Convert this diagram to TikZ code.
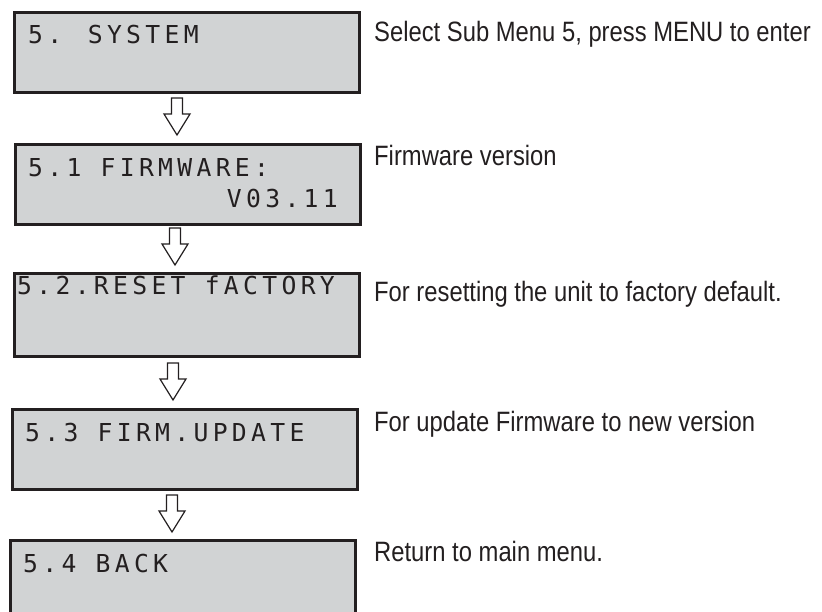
\documentclass[tikz,border=0pt]{standalone}
\usepackage{fontspec}
\setmainfont{Liberation Sans}[FakeStretch=0.85]
\newfontfamily\lcdfont{DejaVu Sans Mono}[LetterSpace=17.5]
\definecolor{lcdgray}{RGB}{209,211,212}
\definecolor{ink}{RGB}{35,31,32}

\begin{document}
\begin{tikzpicture}[x=1pt, y=-1pt,
    lcd/.style={draw=ink, line width=2.6pt, fill=lcdgray, anchor=north west,
      minimum width=345pt, minimum height=80pt, inner sep=0pt},
    lcdtxt/.style={inner sep=0pt, text=ink, font=\lcdfont\fontsize{24.7}{26}\selectfont},
    note/.style={anchor=base west, inner sep=0pt, text=ink, font=\fontsize{28}{30}\selectfont},
    downarrow/.pic={\draw[ink, line width=1.2pt, fill=white]
      (-5.5,0) -- (5.5,0) -- (5.5,16) -- (13,16) -- (0,37) -- (-13,16) -- (-5.5,16) -- cycle;}]
    \useasboundingbox (0,0) rectangle (822,612);

    % Anzeigen
    \node[lcd] (sys) at (13,11) {};
    \node[lcd] (fw) at (14,143) {};
    \node[lcd, minimum height=83pt] (rst) at (13,272) {};
    \node[lcd] (upd) at (11,408) {};
    \node[lcd] (back) at (9,539) {};

    % Anzeigetexte
    \node[lcdtxt, anchor=base west] (sys-t) at (28,43.5) {5. SYSTEM};
    \node[lcdtxt, anchor=base west] (fw-t) at (28,176.5) {5.1 FIRMWARE:};
    \node[lcdtxt, anchor=base east] (fw-v) at (338,208) {V03.11};
    \node[lcdtxt, anchor=base west] (rst-t) at (17,295) {5.2.RESET fACTORY};
    \node[lcdtxt, anchor=base west] (upd-t) at (25,441.5) {5.3 FIRM.UPDATE};
    \node[lcdtxt, anchor=base west] (back-t) at (23,572.5) {5.4 BACK};

    % Pfeile
    \pic at (177,98) {downarrow};
    \pic at (175,228) {downarrow};
    \pic at (173,363) {downarrow};
    \pic at (172,495) {downarrow};

    % Beschreibungen
    \node[note] (sys-n) at (374,41.7) {Select Sub Menu 5, press MENU to enter};
    \node[note] (fw-n) at (374,166) {Firmware version};
    \node[note] (rst-n) at (374,301.7) {For resetting the unit to factory default.};
    \node[note] (upd-n) at (374,431.7) {For update Firmware to new version};
    \node[note] (back-n) at (374,561.7) {Return to main menu.};
\end{tikzpicture}
\end{document}
